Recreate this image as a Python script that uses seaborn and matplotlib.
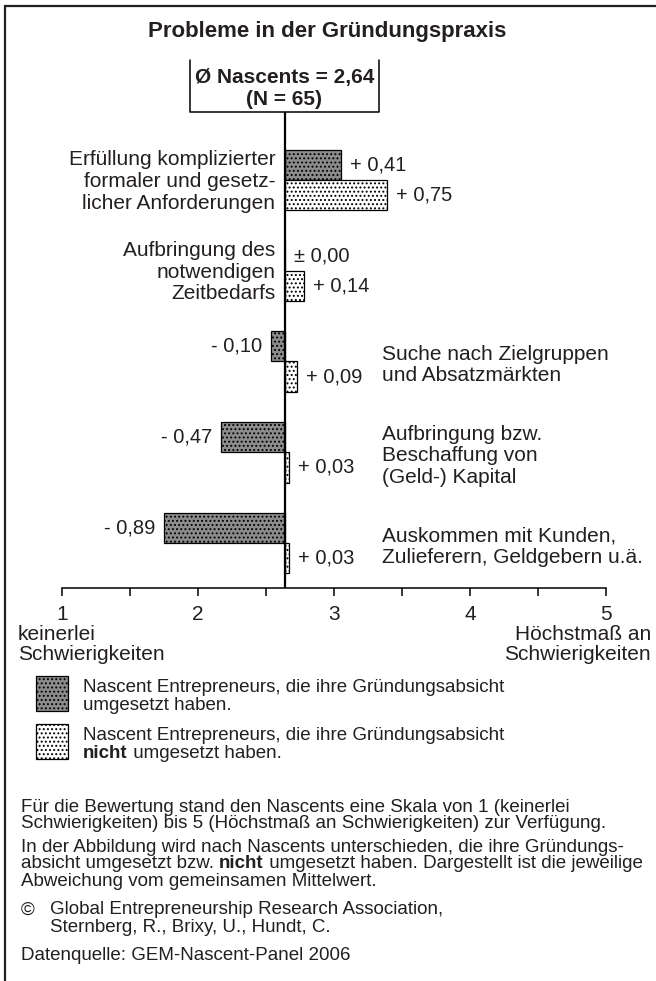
import matplotlib
matplotlib.use("Agg")
import matplotlib.pyplot as plt
from matplotlib.patches import Rectangle
from matplotlib.lines import Line2D
import seaborn as sns
import pandas as pd

W, H = 656, 981

# values: deviation from the common mean
mean_all = 2.64
n_all = 65
categories = [
    "Erfüllung komplizierter\nformaler und gesetz-\nlicher Anforderungen",
    "Aufbringung des\nnotwendigen\nZeitbedarfs",
    "Suche nach Zielgruppen\nund Absatzmärkten",
    "Aufbringung bzw.\nBeschaffung von\n(Geld-) Kapital",
    "Auskommen mit Kunden,\nZulieferern, Geldgebern u.ä.",
]
dev_done = [0.41, 0.00, -0.10, -0.47, -0.89]
dev_not_done = [0.75, 0.14, 0.09, 0.03, 0.03]
group_names = ["umgesetzt", "nicht umgesetzt"]
scale_ticks = [1, 2, 3, 4, 5]
scale_half = [1.5, 2.5, 3.5, 4.5]
scale_low = ["keinerlei", "Schwierigkeiten"]
scale_high = ["Höchstmaß an", "Schwierigkeiten"]

legend_rows = [
    [[("Nascent Entrepreneurs, die ihre Gründungsabsicht", False)],
     [("umgesetzt haben.", False)]],
    [[("Nascent Entrepreneurs, die ihre Gründungsabsicht", False)],
     [("nicht", True), (" umgesetzt haben.", False)]],
]
notes = [
    [("Für die Bewertung stand den Nascents eine Skala von 1 (keinerlei", False)],
    [("Schwierigkeiten) bis 5 (Höchstmaß an Schwierigkeiten) zur Verfügung.", False)],
    [("In der Abbildung wird nach Nascents unterschieden, die ihre Gründungs-", False)],
    [("absicht umgesetzt bzw. ", False), ("nicht", True),
     (" umgesetzt haben. Dargestellt ist die jeweilige", False)],
    [("Abweichung vom gemeinsamen Mittelwert.", False)],
]
source = ["Global Entrepreneurship Research Association,",
          "Sternberg, R., Brixy, U., Hundt, C."]
data_source = "Datenquelle: GEM-Nascent-Panel 2006"

sns.set_style("ticks")
plt.rcParams["font.family"] = ["Liberation Sans", "DejaVu Sans"]
plt.rcParams["hatch.linewidth"] = 0.9

dark = "#8c8c8c"
light = "#ffffff"
ink = "#231f20"

df = pd.DataFrame({
    "category": categories * 2,
    "group": [group_names[0]] * len(categories) + [group_names[1]] * len(categories),
    "dev": dev_done + dev_not_done,
})

fig = plt.figure(figsize=(W / 100, H / 100), dpi=100)


def fx(x):
    return x / W


def fy(y):
    return 1 - y / H


def fmt(v):
    s = f"{abs(v):.2f}".replace(".", ",")
    if v > 0:
        return "+ " + s
    if v < 0:
        return "- " + s
    return "± " + s


def text_runs(x_px, y_px, parts, size):
    renderer = fig.canvas.get_renderer()
    x = x_px
    for s, bold in parts:
        t = fig.text(fx(x), fy(y_px), s, ha="left", va="center_baseline",
                     fontsize=size, fontweight="bold" if bold else "normal", color=ink)
        x = t.get_window_extent(renderer=renderer).x1


ax = fig.add_axes([fx(62), fy(588), (606 - 62) / W, (588 - 112) / H])
sns.barplot(data=df, x="dev", y="category", hue="group", hue_order=group_names,
            palette=[dark, light], saturation=1, width=0.67, orient="h",
            edgecolor="black", linewidth=0.9, errorbar=None, legend=False, ax=ax)

for cont in ax.containers:
    for p in cont:
        p.set_hatch("....")

ax.set_xlim(scale_ticks[0] - mean_all, scale_ticks[-1] - mean_all)
ax.set_ylim(4.496, -0.749)
ax.set_xticks([t - mean_all for t in scale_ticks])
ax.set_xticklabels([str(t) for t in scale_ticks], fontsize=15, color=ink)
ax.set_xticks([t - mean_all for t in scale_half], minor=True)
ax.tick_params(axis="x", which="both", direction="out", length=6, width=1.1,
               color="black", pad=6.5, bottom=True)
ax.set_yticks([])
ax.set_xlabel("")
ax.set_ylabel("")
sns.despine(ax=ax, left=True)
ax.spines["bottom"].set_linewidth(1.1)
ax.spines["bottom"].set_color("black")
ax.axvline(0, color="black", lw=1.6, zorder=3)
ax.patch.set_alpha(0)

# value labels next to the bars
for cont, vals in zip(ax.containers, [dev_done, dev_not_done]):
    for p, v in zip(cont, vals):
        yc = p.get_y() + p.get_height() / 2
        ax.annotate(fmt(v), xy=(v, yc), xytext=(6.5 if v >= 0 else -6.5, 0),
                    textcoords="offset points", ha="left" if v >= 0 else "right",
                    va="center", fontsize=14.5, color=ink)

# category labels, left of the line for the upper two, right column for the rest
for i, (cat, v) in enumerate(zip(categories, dev_done)):
    if v >= 0:
        ax.annotate(cat, xy=(0, i), xytext=(-7, -1), textcoords="offset points",
                    ha="right", va="center", multialignment="right",
                    fontsize=15, linespacing=1.18, color=ink)
    else:
        ax.text(3.35 - mean_all, i + 0.04, cat, ha="left", va="center",
                fontsize=15, linespacing=1.18, color=ink)

# frame (top and left only)
fig.add_artist(Line2D([fx(5), 1], [fy(6), fy(6)], transform=fig.transFigure, color=ink, lw=1.6))
fig.add_artist(Line2D([fx(5), fx(5)], [fy(6), 0], transform=fig.transFigure, color=ink, lw=1.6))

fig.text(fx(327), fy(31), "Probleme in der Gründungspraxis", ha="center", va="center",
         fontsize=16, fontweight="bold", color=ink)

# mean box
fig.add_artist(Line2D([fx(190), fx(190), fx(379), fx(379)], [fy(60), fy(112), fy(112), fy(60)],
                      transform=fig.transFigure, color="black", lw=1.1))
fig.text(fx(284.5), fy(78), f"Ø Nascents = {mean_all:.2f}".replace(".", ","), ha="center",
         va="center", fontsize=15, fontweight="bold", color=ink)
fig.text(fx(284.5), fy(99), f"(N = {n_all})", ha="center", va="center",
         fontsize=15, fontweight="bold", color=ink)

# scale end descriptions
for k, (lo, hi) in enumerate(zip(scale_low, scale_high)):
    fig.text(fx(18), fy(635 + 19 * k), lo, ha="left", va="center", fontsize=15, color=ink)
    fig.text(fx(651), fy(635 + 19 * k), hi, ha="right", va="center", fontsize=15, color=ink)

# legend
for k, (rows, col) in enumerate(zip(legend_rows, [dark, light])):
    top = 676 + 48 * k
    fig.add_artist(Rectangle((fx(36), fy(top + 35)), 32 / W, 35 / H, transform=fig.transFigure,
                             facecolor=col, edgecolor="black", lw=0.9, hatch="...."))
    for j, parts in enumerate(rows):
        text_runs(83, top + 9 + 18 * j, parts, 13.5)

# notes below
note_y = [805, 822, 845, 862, 880]
for y, parts in zip(note_y, notes):
    text_runs(21, y, parts, 13.5)
fig.text(fx(21), fy(908), "©", ha="left", va="center_baseline", fontsize=13.5, color=ink)
for k, line in enumerate(source):
    fig.text(fx(50), fy(908 + 17 * k), line, ha="left", va="center_baseline",
             fontsize=13.5, color=ink)
fig.text(fx(21), fy(953), data_source, ha="left", va="center_baseline", fontsize=13.5, color=ink)

fig.savefig("out.png", dpi=100)
